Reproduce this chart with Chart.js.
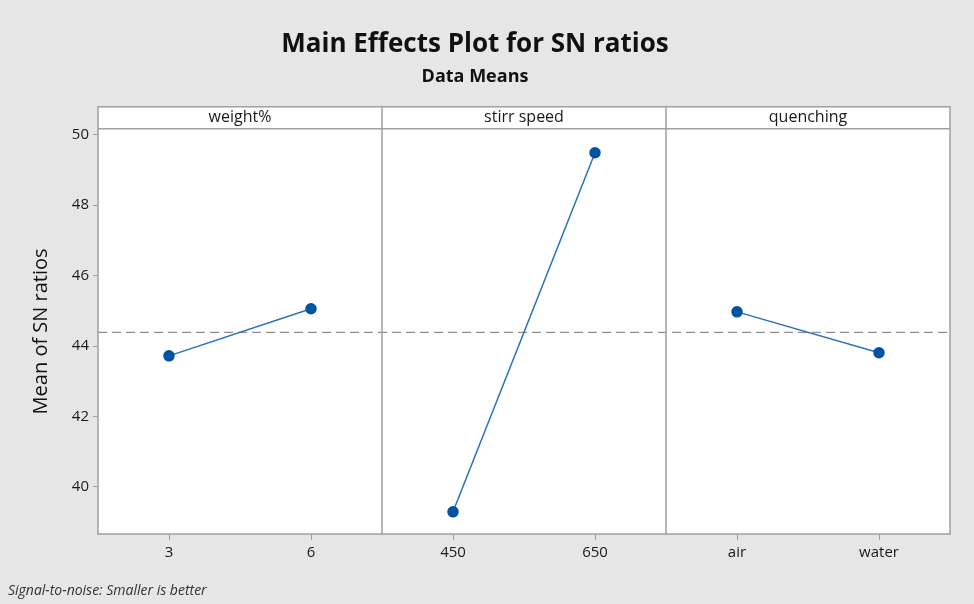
<!DOCTYPE html>
<html>
<head>
<meta charset="utf-8">
<script src="https://cdn.jsdelivr.net/npm/chart.js@4"></script>
<style>
  html, body { margin: 0; padding: 0; background: #e6e6e6; }
  #wrap { width: 974px; height: 604px; }
</style>
</head>
<body>
<div id="wrap"><canvas id="chart" width="974" height="604"></canvas></div>
<script>
// --- Data ---
const factors = ['weight%', 'stirr speed', 'quenching'];
const levels = [['3', '6'], ['450', '650'], ['air', 'water']];
const weightMeans = [43.72, 45.06];
const stirrMeans = [39.29, 49.49];
const quenchMeans = [44.97, 43.81];
const yTicks = [40, 42, 44, 46, 48, 50];

const allMeans = [weightMeans, stirrMeans, quenchMeans];
const labels = levels.flat();
const grandMean = allMeans.flat().reduce((a, b) => a + b, 0) / allMeans.flat().length;

// each factor gets its own series, null outside its panel
const datasets = allMeans.map((vals, f) => {
    const data = labels.map(() => null);
    vals.forEach((v, i) => { data[f * 2 + i] = v; });
    return {
        label: factors[f],
        data: data,
        borderColor: '#2a6fc0',
        borderWidth: 1.5,
        pointBackgroundColor: '#0052a3',
        pointBorderColor: '#0052a3',
        pointRadius: 5,
        spanGaps: false
    };
});

const fontFamily = '"Open Sans", "Noto Sans", sans-serif';

// --- Panels, headers, mean line, footnote ---
const panelPlugin = {
    id: 'panels',
    beforeDraw(chart) {
        const { ctx, chartArea: a } = chart;
        ctx.save();
        ctx.fillStyle = '#ffffff';
        ctx.fillRect(a.left, a.top, a.right - a.left, a.bottom - a.top);
        ctx.restore();
    },
    beforeDatasetsDraw(chart) {
        const { ctx, chartArea: a, scales } = chart;
        const yMean = scales.y.getPixelForValue(grandMean);
        ctx.save();
        ctx.strokeStyle = '#8f8f8f';
        ctx.lineWidth = 1.3;
        ctx.setLineDash([9, 5]);
        ctx.beginPath();
        ctx.moveTo(a.left, yMean);
        ctx.lineTo(a.right, yMean);
        ctx.stroke();
        ctx.restore();
    },
    afterDraw(chart) {
        const { ctx, chartArea: a } = chart;
        const headerH = 22;
        const panelW = (a.right - a.left) / factors.length;
        ctx.save();
        // header strip
        ctx.fillStyle = '#ffffff';
        ctx.fillRect(a.left, a.top - headerH, a.right - a.left, headerH);
        ctx.strokeStyle = '#a0a0a0';
        ctx.lineWidth = 1.5;
        ctx.strokeRect(a.left, a.top - headerH, a.right - a.left, a.bottom - a.top + headerH);
        ctx.beginPath();
        ctx.moveTo(a.left, a.top);
        ctx.lineTo(a.right, a.top);
        for (let i = 1; i < factors.length; i++) {
            const x = a.left + panelW * i;
            ctx.moveTo(x, a.top - headerH);
            ctx.lineTo(x, a.bottom);
        }
        ctx.stroke();
        ctx.fillStyle = '#1a1a1a';
        ctx.font = '16px ' + fontFamily;
        ctx.textAlign = 'center';
        ctx.textBaseline = 'middle';
        factors.forEach((f, i) => {
            ctx.fillText(f, a.left + panelW * (i + 0.5), a.top - headerH / 2);
        });
        // footnote
        ctx.font = 'italic 14px ' + fontFamily;
        ctx.textAlign = 'left';
        ctx.fillStyle = '#333333';
        ctx.fillText('Signal-to-noise: Smaller is better', 8, 591);
        ctx.restore();
    }
};

new Chart(document.getElementById('chart'), {
    type: 'line',
    data: { labels: labels, datasets: datasets },
    options: {
        responsive: false,
        animation: false,
        layout: { padding: { top: 0, right: 24, bottom: 0, left: 0 } },
        plugins: {
            legend: { display: false },
            tooltip: { enabled: false },
            title: {
                display: true,
                text: 'Main Effects Plot for SN ratios',
                color: '#111111',
                font: { family: fontFamily, size: 26, weight: 'bold' },
                padding: { top: 29, bottom: 6 }
            },
            subtitle: {
                display: true,
                text: 'Data Means',
                color: '#111111',
                font: { family: fontFamily, size: 18, weight: 'bold' },
                padding: { top: 0, bottom: 41 }
            }
        },
        scales: {
            x: {
                offset: true,
                grid: { display: true, drawOnChartArea: false, drawTicks: true, tickLength: 6, color: '#a0a0a0' },
                border: { display: false },
                ticks: { color: '#1a1a1a', font: { family: fontFamily, size: 15 }, padding: 4, maxRotation: 0 },
                afterFit: s => { s.height = 70; }
            },
            y: {
                min: 38.66,
                max: 50.17,
                afterBuildTicks: s => { s.ticks = yTicks.map(v => ({ value: v })); },
                grid: { display: true, drawOnChartArea: false, drawTicks: true, tickLength: 5, color: '#a0a0a0' },
                border: { display: false },
                ticks: { color: '#1a1a1a', font: { family: fontFamily, size: 15 }, padding: 4 },
                title: {
                    display: true,
                    text: 'Mean of SN ratios',
                    color: '#111111',
                    font: { family: fontFamily, size: 20 },
                    padding: { top: 29, bottom: 0 }
                },
                afterFit: s => { s.width = 98; }
            }
        }
    },
    plugins: [panelPlugin]
});
</script>
</body>
</html>
